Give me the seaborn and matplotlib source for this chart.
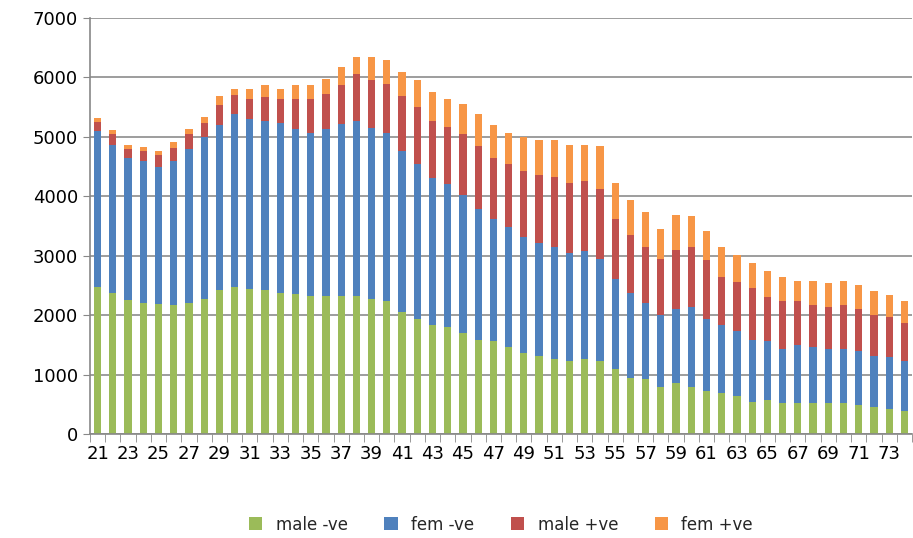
import matplotlib
matplotlib.use("Agg")
import matplotlib.pyplot as plt
import seaborn as sns
import numpy as np

ages = list(range(21, 75))
# cumulative tops
cum_green = [2480,2380,2250,2210,2180,2170,2200,2270,2420,2480,2440,2420,2380,2350,2320,2320,2320,2320,
             2270,2240,2060,1930,1830,1800,1700,1590,1560,1460,1360,1320,1260,1220,1260,1220,1090,950,
             920,790,850,787,720,685,645,545,580,515,515,515,515,515,480,450,420,380]
cum_blue = [5100,4870,4640,4600,4500,4600,4800,4990,5200,5380,5300,5270,5240,5130,5070,5130,5210,5270,
            5150,5070,4770,4540,4300,4200,4030,3790,3620,3490,3320,3220,3150,3050,3080,2950,2610,2370,
            2200,2000,2100,2130,1930,1830,1730,1590,1560,1430,1490,1460,1430,1430,1390,1320,1290,1230]
cum_red = [5250,5050,4800,4770,4700,4810,5040,5240,5530,5700,5640,5670,5630,5640,5640,5720,5870,6050,
           5950,5890,5680,5510,5270,5170,5050,4840,4640,4540,4430,4360,4330,4230,4260,4130,3620,3350,
           3150,2950,3090,3150,2920,2650,2550,2450,2310,2240,2230,2170,2140,2170,2100,2000,1970,1870]
cum_orange = [5310,5110,4860,4830,4770,4920,5130,5330,5680,5810,5810,5880,5810,5880,5880,5980,6180,6350,
              6350,6300,6090,5950,5750,5640,5550,5380,5200,5070,5000,4940,4940,4870,4870,4840,4230,3930,
              3730,3450,3690,3660,3420,3150,3010,2870,2740,2640,2580,2580,2540,2580,2510,2410,2340,2240]

male_neg = np.array(cum_green)
fem_neg = np.array(cum_blue) - male_neg
male_pos = np.array(cum_red) - np.array(cum_blue)
fem_pos = np.array(cum_orange) - np.array(cum_red)

series = ["male -ve", "fem -ve", "male +ve", "fem +ve"]
colors = ["#9BBB59", "#4F81BD", "#C0504D", "#F79646"]

fig = plt.figure(figsize=(9.13, 5.38), dpi=100)
ax = fig.add_axes([90/913, 1-434/538, 822/913, 416/538])
sns.set_style("white")
tops = [male_neg, male_neg+fem_neg, male_neg+fem_neg+male_pos, male_neg+fem_neg+male_pos+fem_pos]
labels = [str(a) for a in ages]
for vals, c, name in reversed(list(zip(tops, colors, series))):
    sns.barplot(x=labels, y=vals, color=c, width=0.47, ax=ax, label=name, order=labels,
                saturation=1, linewidth=0)

ax.set_ylim(0, 7000)
ax.set_yticks(range(0, 7001, 1000))
ax.set_xlim(-0.5, 53.05)
ax.set_xticks(range(0, len(ages), 2))
ax.set_xticklabels([str(a) for a in ages[::2]])
ax.set_xticks(np.arange(-0.5, len(ages), 1), minor=True)
ax.tick_params(axis="x", which="major", length=0, labelsize=13, pad=8)
ax.tick_params(axis="x", which="minor", length=6, color="#888888")
ax.tick_params(axis="y", length=5, labelsize=13, color="#888888")
ax.yaxis.grid(True, color="#8c8c8c", linewidth=1.2, linestyle="-")
ax.set_axisbelow(True)
for s in ["top", "right"]:
    ax.spines[s].set_visible(False)
for s in ["left", "bottom"]:
    ax.spines[s].set_color("#888888")
    ax.spines[s].set_linewidth(1.2)
ax.set_xlabel("")
ax.set_ylabel("")

handles, lbls = ax.get_legend_handles_labels()
order = [lbls.index(n) for n in series]
ax.legend([handles[i] for i in order], series, loc="upper center", bbox_to_anchor=(0.5, -0.16),
          ncol=4, frameon=False, fontsize=12, handlelength=0.8, handleheight=0.8, columnspacing=2.2)
fig.savefig("out.png", dpi=100)
